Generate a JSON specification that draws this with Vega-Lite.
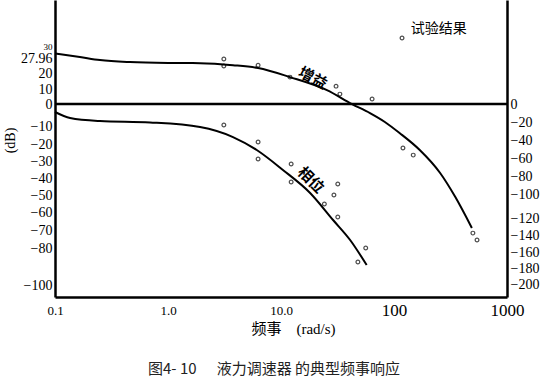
{
  "$schema": "https://vega.github.io/schema/vega-lite/v6.json",
  "width": 452,
  "height": 297,
  "autosize": "none",
  "padding": {"left": 55, "top": 0, "right": 43, "bottom": 88},
  "background": "white",
  "config": {
    "view": {"stroke": null},
    "axis": {"grid": false, "ticks": false, "labelOverlap": false, "labelFlush": false, "domainColor": "#000", "labelColor": "#000", "labelFont": "Liberation Serif", "titleFont": "Liberation Serif", "titleColor": "#000", "titleFontWeight": "normal"}
  },
  "title": {
    "text": "图4-\u00a010\u00a0\u00a0\u00a0\u00a0\u00a0\u00a0液力调速器\u00a0的典型频事响应",
    "orient": "bottom",
    "anchor": "start",
    "frame": "group",
    "dx": 93,
    "offset": 26,
    "font": "Noto Sans CJK SC",
    "fontSize": 15,
    "fontWeight": "normal",
    "color": "#222"
  },
  "resolve": {"scale": {"y": "independent"}},
  "layer": [
    {
      "encoding": {
        "x": {"field": "f", "type": "quantitative",
          "scale": {"type": "log", "domain": [0.1, 1000], "nice": false},
          "axis": {"values": [0.1, 1, 10, 100, 1000], "domainWidth": 2.5, "labelPadding": 13, "labelFlush": false, "labelOverlap": false,
            "labelFont": "Liberation Serif",
            "labelExpr": "datum.value == 0.1 ? '0.1' : datum.value == 1 ? '1.0' : datum.value == 10 ? '10.0' : datum.value == 100 ? '100' : '1000'",
            "labelFontSize": {"condition": {"test": "datum.value >= 100", "value": 17}, "value": 13},
            "labelBaseline": "middle",
            "title": "频事\u00a0\u00a0\u00a0\u00a0(rad/s)", "titleFont": "Liberation Serif, Noto Sans CJK SC", "titleFontSize": 15,
            "titleX": 238, "titleY": 31, "titleAlign": "center", "titleBaseline": "middle"}},
        "y": {"field": "db", "type": "quantitative",
          "scale": {"domain": [-106.6, 57.5], "nice": false, "zero": false},
          "axis": {"values": [30, 27.96, 20, 10, 0, -10, -20, -30, -40, -50, -60, -70, -80, -100],
            "format": ".2~f", "labelFont": "Liberation Serif",
            "domainWidth": 2.5, "labelPadding": 3, "labelOverlap": false,
            "labelFontSize": {"condition": {"test": "datum.value == 30", "value": 9}, "value": 14},
            "labelOffset": {"condition": [
              {"test": "datum.value == 30", "value": -3},
              {"test": "datum.value == 27.96", "value": 5},
              {"test": "datum.value == 20", "value": 6},
              {"test": "datum.value == 10", "value": 4},
              {"test": "datum.value == -10", "value": 4},
              {"test": "datum.value == -20", "value": 4},
              {"test": "datum.value == -30", "value": 3},
              {"test": "datum.value == -40", "value": 2},
              {"test": "datum.value == -50", "value": 1}
            ], "value": 0},
            "title": "(dB)", "titleFontSize": 14, "titleX": -45, "titleY": 140, "titleAngle": -90,
            "titleAlign": "center", "titleBaseline": "middle"}}
      },
      "layer": [
        {
          "data": {"values": [
            {"f": 0.1, "db": 27.96}, {"f": 0.166, "db": 26.0}, {"f": 0.25, "db": 24.3}, {"f": 0.46, "db": 23.2},
            {"f": 1.04, "db": 22.7}, {"f": 1.92, "db": 22.6}, {"f": 3.76, "db": 21.5}, {"f": 6.27, "db": 19.9},
            {"f": 12.0, "db": 14.9}, {"f": 25.5, "db": 7.7}, {"f": 42.5, "db": 0}, {"f": 61.3, "db": -5.0},
            {"f": 83, "db": -9.9}, {"f": 112, "db": -16.0}, {"f": 169, "db": -25.4}, {"f": 256, "db": -38.1},
            {"f": 349, "db": -51.4}, {"f": 489, "db": -68.5}
          ]},
          "mark": {"type": "line", "color": "#000", "strokeWidth": 2, "interpolate": "monotone"}
        },
        {
          "data": {"values": [
            {"f": 3.12, "db": 24.9}, {"f": 3.12, "db": 21.0}, {"f": 6.27, "db": 21.5}, {"f": 12.0, "db": 14.9},
            {"f": 30.7, "db": 9.9}, {"f": 33.2, "db": 5.5}, {"f": 64, "db": 2.8}, {"f": 120, "db": -24.3},
            {"f": 148, "db": -28.2}, {"f": 499, "db": -71.3}, {"f": 543, "db": -75.1}
          ]},
          "mark": {"type": "point", "color": "#000", "size": 14, "strokeWidth": 1.2}
        },
        {
          "data": {"values": [{"f": 0.1, "f2": 1000, "db": 0}]},
          "mark": {"type": "rule", "color": "#000", "strokeWidth": 2.5},
          "encoding": {"x2": {"field": "f2"}}
        },
        {
          "data": {"values": [{"f": 19.1, "db": 14.4, "t": "增益"}]},
          "mark": {"type": "text", "angle": 28, "font": "Noto Sans CJK SC", "fontSize": 15, "fontWeight": "bold", "color": "#000"},
          "encoding": {"text": {"field": "t"}}
        },
        {
          "data": {"values": [{"f": 117.8, "db": 36.5}]},
          "mark": {"type": "point", "color": "#000", "size": 14, "strokeWidth": 1.2}
        },
        {
          "data": {"values": [{"f": 141, "db": 41.4, "t": "试验结果"}]},
          "mark": {"type": "text", "align": "left", "baseline": "middle", "font": "Noto Sans CJK SC", "fontSize": 14, "color": "#000"},
          "encoding": {"text": {"field": "t"}}
        }
      ]
    },
    {
      "encoding": {
        "x": {"field": "f", "type": "quantitative"},
        "y": {"field": "ph", "type": "quantitative",
          "scale": {"domain": [-214.5, 117.3], "nice": false, "zero": false},
          "axis": {"orient": "right", "values": [0, -20, -40, -60, -80, -100, -120, -140, -160, -180, -200],
            "labelFont": "Liberation Serif",
            "labelOffset": {"condition": [
              {"test": "datum.value == -120", "value": 6},
              {"test": "datum.value == -140", "value": 5},
              {"test": "datum.value == -160", "value": 4},
              {"test": "datum.value == -180", "value": 2}
            ], "value": 0},
            "domainWidth": 2.5, "labelPadding": 3, "labelFontSize": 14, "labelOverlap": false, "title": null}}
      },
      "layer": [
        {
          "data": {"values": [
            {"f": 0.1, "ph": -7.8}, {"f": 0.136, "ph": -14.5}, {"f": 0.25, "ph": -17.9}, {"f": 0.693, "ph": -19.5},
            {"f": 1.92, "ph": -24.6}, {"f": 3.76, "ph": -35.8}, {"f": 6.1, "ph": -50.3}, {"f": 10.4, "ph": -72.6},
            {"f": 18.1, "ph": -98.3}, {"f": 28.9, "ph": -128.5}, {"f": 40.9, "ph": -150.8}, {"f": 57.3, "ph": -178.8}
          ]},
          "mark": {"type": "line", "color": "#000", "strokeWidth": 2, "interpolate": "monotone"}
        },
        {
          "data": {"values": [
            {"f": 3.12, "ph": -22.3}, {"f": 6.27, "ph": -41.3}, {"f": 6.27, "ph": -60.3}, {"f": 12.3, "ph": -65.9},
            {"f": 12.3, "ph": -86.0}, {"f": 31.8, "ph": -88.3}, {"f": 29.4, "ph": -100.6}, {"f": 24.2, "ph": -110.6},
            {"f": 31.8, "ph": -125.1}, {"f": 56.2, "ph": -159.8}, {"f": 47.9, "ph": -175.4}
          ]},
          "mark": {"type": "point", "color": "#000", "size": 14, "strokeWidth": 1.2}
        },
        {
          "data": {"values": [{"f": 18.4, "ph": -83.8, "t": "相位"}]},
          "mark": {"type": "text", "angle": 45, "font": "Noto Sans CJK SC", "fontSize": 15, "fontWeight": "bold", "color": "#000"},
          "encoding": {"text": {"field": "t"}}
        }
      ]
    }
  ]
}
